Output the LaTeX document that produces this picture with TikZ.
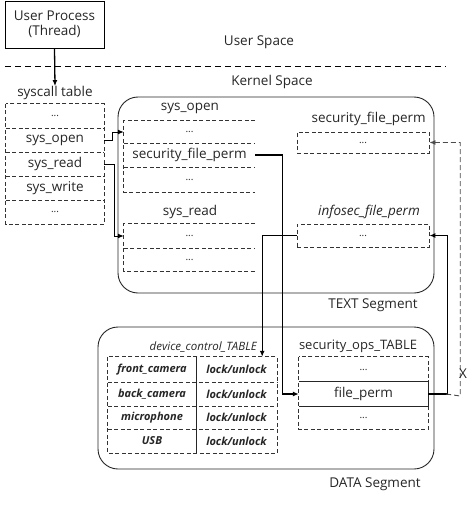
\documentclass[tikz,border=0pt]{standalone}
\usepackage{fontspec}
\setmainfont{Open Sans}
\usetikzlibrary{arrows.meta}
\begin{document}
\begin{tikzpicture}[x=1pt,y=-1pt,
  dsh/.style={dash pattern=on 4pt off 2.5pt, line width=0.9pt, draw=black!80},
  txt/.style={font=\fontsize{13.5}{15}\selectfont, text=black!85, inner sep=0pt},
  itxt/.style={font=\fontsize{13.5}{15}\selectfont\itshape, text=black!85, inner sep=0pt},
  dots/.style={font=\fontsize{10}{12}\selectfont, text=black!85, inner sep=0pt},
  cell/.style={txt, minimum height=24pt},
  dcell/.style={font=\fontsize{11}{13}\selectfont\bfseries\itshape, text=black!85, inner sep=0pt, minimum height=24pt},
  seg/.style={draw=black!85, line width=0.9pt, rounded corners=20pt},
  arr/.style={-{Latex[length=6pt,width=5pt]}, line width=1.3pt},
  darr/.style={-{Latex[length=6pt,width=5pt]}, line width=0.9pt, dash pattern=on 5pt off 3pt, draw=black!70}]
\useasboundingbox (0,0) rectangle (469,511);

% user process
\node[draw, line width=0.9pt, minimum width=99pt, minimum height=47pt, align=center, txt] (up) at (54.5,24.5) {User Process\\(Thread)};
\node[txt] (us) at (259,42) {User Space};
\node[txt] (ks) at (272,82) {Kernel Space};
\draw[dash pattern=on 6pt off 4pt, line width=0.9pt] (5,66) -- (446,66);

% syscall table
\node[txt] (st) at (55,93) {syscall table};
\draw[arr] (up.south) -- (st.north);
\node[cell, minimum width=98pt] (s0) at (55,116) {\fontsize{10}{12}\selectfont ...};
\node[cell, minimum width=98pt] (s1) at (55,140) {sys\_open};
\node[cell, minimum width=98pt] (s2) at (55,164) {sys\_read};
\node[cell, minimum width=98pt] (s3) at (55,188) {sys\_write};
\node[cell, minimum width=98pt] (s4) at (55,212) {\fontsize{10}{12}\selectfont ...};
\draw[dsh] (s0.north west) rectangle (s4.south east);
\foreach \r in {s0,s1,s2,s3} \draw[dsh] (\r.south west) -- (\r.south east);

% TEXT segment
\node[seg, minimum width=316pt, minimum height=196pt, inner sep=0pt] (textseg) at (276,195) {};
\node[txt] (tsl) at (373,305) {TEXT Segment};

\node[txt] (sol) at (190,108) {sys\_open};
\node[cell, minimum width=131pt, minimum height=22pt] (o1) at (189.5,132) {\fontsize{10}{12}\selectfont ...};
\node[cell, minimum width=131pt] (o2) at (189.5,155) {security\_file\_perm};
\node[cell, minimum width=131pt, minimum height=25pt] (o3) at (189.5,179.5) {\fontsize{10}{12}\selectfont ...};
\draw[dsh] (o1.north east) -- (o1.north west) -- (o3.south west) -- (o3.south east);
\foreach \r in {o1,o2} \draw[dsh] (\r.south west) -- (\r.south east);

\node[txt] (srl) at (190,212) {sys\_read};
\node[cell, minimum width=131pt] (r1) at (189.5,236) {\fontsize{10}{12}\selectfont ...};
\node[cell, minimum width=131pt, minimum height=23pt] (r2) at (189.5,259.5) {\fontsize{10}{12}\selectfont ...};
\draw[dsh] (r1.north east) -- (r1.north west) -- (r2.south west) -- (r2.south east);
\draw[dsh] (r1.south west) -- (r1.south east);

\node[txt, anchor=east] (sfpl) at (426,119) {security\_file\_perm};
\node[dsh, draw, dots, minimum width=132pt, minimum height=21pt] (sfpbox) at (363,142.5) {...};
\node[itxt, anchor=east] (ifpl) at (420,212) {infosec\_file\_perm};
\node[dsh, draw, dots, minimum width=132pt, minimum height=23pt] (ibox) at (363,235.5) {...};

% DATA segment
\node[seg, minimum width=336pt, minimum height=142pt, inner sep=0pt] (dataseg) at (266,398) {};
\node[txt] (dsl) at (375,484) {DATA Segment};

\node[font=\fontsize{11.5}{13}\selectfont\itshape, text=black!85, inner sep=0pt, anchor=east] (dctl) at (257,347) {device\_control\_TABLE};
\node[dcell, minimum width=88pt, minimum height=25pt] (d1a) at (152,369.5) {front\_camera};
\node[dcell, minimum width=88pt] (d2a) at (152,394) {back\_camera};
\node[dcell, minimum width=88pt, minimum height=23pt] (d3a) at (152,417.5) {microphone};
\node[dcell, minimum width=88pt] (d4a) at (152,441) {USB};
\node[dcell, minimum width=81pt, minimum height=25pt] (d1b) at (236.5,369.5) {lock/unlock};
\node[dcell, minimum width=81pt] (d2b) at (236.5,394) {lock/unlock};
\node[dcell, minimum width=81pt, minimum height=23pt] (d3b) at (236.5,417.5) {lock/unlock};
\node[dcell, minimum width=81pt] (d4b) at (236.5,441) {lock/unlock};
\draw[dsh] (d1a.north west) rectangle (d4b.south east);
\foreach \r in {d1a,d2a,d3a} \draw[dsh] (\r.south west) -- (\r.south west -| d4b.east);
\draw[line width=0.9pt, black!85] (d1a.north east) -- (d4a.south east);
\coordinate (dtin) at ([xshift=-15pt]d1b.north east);

\node[txt, font=\fontsize{13}{15}\selectfont] (sotl) at (358,346) {security\_ops\_TABLE};
\node[cell, minimum width=129pt, minimum height=25pt] (p1) at (363.5,369.5) {\fontsize{10}{12}\selectfont ...};
\node[cell, minimum width=129pt] (p2) at (363.5,394) {file\_perm};
\node[cell, minimum width=129pt, minimum height=23pt] (p3) at (363.5,417.5) {\fontsize{10}{12}\selectfont ...};
\draw[dsh] (p1.north west) rectangle (p3.south east);
\draw[line width=0.9pt, black!85] (p2.north west) -- (p2.north east) -- (p2.south east) -- (p2.south west);

% connectors
\draw[arr, line width=1pt] (s1.east) -| ([xshift=-11pt]o1.west) -- (o1.west);
\draw[arr, line width=1pt] (s2.east) -| ([xshift=-9pt]r1.west) -- (r1.west);
\draw[arr] (o2.east) -| ([xshift=-16pt]p2.west) -- (p2.west);
\draw[arr] (ibox.west) -| (dtin);
\draw[arr] (p2.east) -| ([xshift=18pt]ibox.east) -- (ibox.east);
\draw[darr] ([xshift=18pt]p2.east) -- ([xshift=32pt,yshift=-2pt]p2.east) |- (sfpbox.east);
\node[txt] (xl) at (463,374) {X};
\end{tikzpicture}
\end{document}
